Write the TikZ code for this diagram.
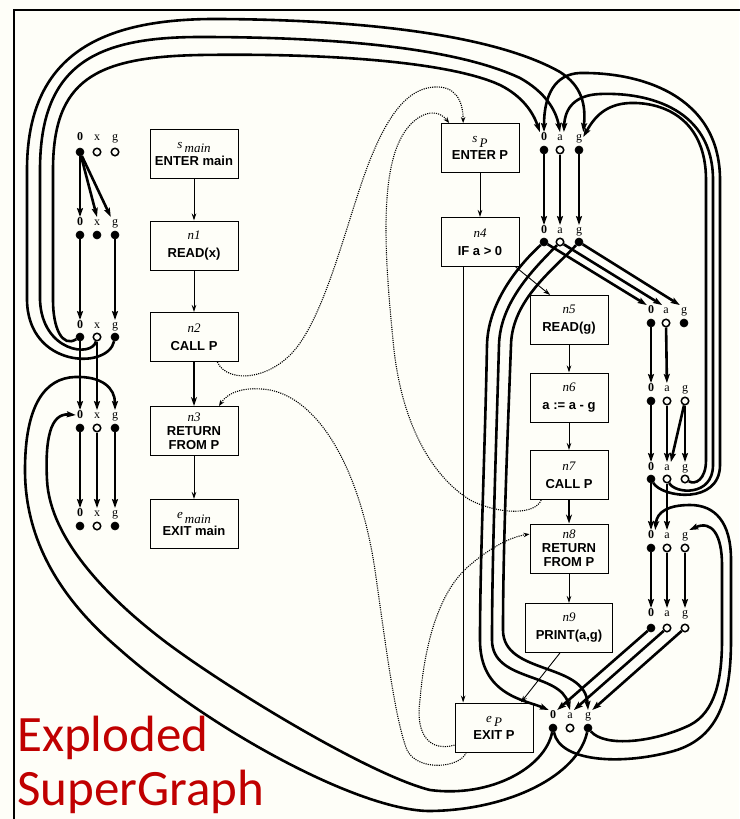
\documentclass[tikz,border=0pt]{standalone}
\usepackage{fontspec}
\setmainfont{Liberation Serif}
\setsansfont{Liberation Sans}
\newfontfamily\redfont{Carlito}
\usetikzlibrary{arrows.meta,calc}
\definecolor{bgc}{RGB}{254,254,248}
\definecolor{redc}{RGB}{192,0,0}
\newcommand\factrow[9]{%
  \node[lab] (#1Lo) at (#2,#5) {\textbf{0}};
  \node[lab] (#1Lv) at (#3,#5) {#7};
  \node[lab] (#1Lg) at (#4,#5) {g};
  \node[fd] (#1o) at (#2,#6) {};
  \node[#8] (#1v) at (#3,#6) {};
  \node[#9] (#1g) at (#4,#6) {};
}
\newcommand\subnm[1]{\raisebox{-4.5pt}[0pt][0pt]{\,\textit{#1}}}
\begin{document}
\begin{tikzpicture}[x=1pt,y=-1pt,
  lab/.style={font=\fontsize{12}{12}\selectfont, inner sep=1pt, text height=7.5pt, text depth=0pt},
  fd/.style={circle, fill=black, draw=black, line width=0.6pt, minimum size=8pt, inner sep=0pt},
  hd/.style={circle, fill=bgc, draw=black, line width=1.5pt, minimum size=7.5pt, inner sep=0pt},
  xe/.style={line width=2.6pt, -{Stealth[length=9pt,width=6pt,inset=1.5pt]}},
  box/.style={draw, line width=1pt, fill=bgc, align=center, inner sep=0pt, minimum height=49pt, font=\fontsize{13}{14}\selectfont},
  mbox/.style={box, minimum width=88pt},
  pbox/.style={box, minimum width=78pt},
  flow/.style={line width=0.9pt, -{Stealth[length=7pt,width=4.5pt]}},
  tflow/.style={line width=2.2pt, -{Stealth[length=9pt,width=6pt]}},
  dotl/.style={line width=1.1pt, dash pattern=on 1.1pt off 1.1pt, -{Stealth[length=6pt,width=4.5pt]}},
  redt/.style={font=\redfont\fontsize{51}{51}\selectfont, text=redc, inner sep=0pt, anchor=base west}
]
\useasboundingbox (0,0) rectangle (739,819);
\fill[bgc] (0,0) rectangle (739,819);
\draw[line width=1.5pt] (745,10) -- (14,10) -- (14,825);

% ---------- flow graph boxes ----------
\node[mbox] (smain) at (194,153.5) {\textit{s}\subnm{main}\\[3pt]\textsf{\textbf{ENTER main}}};
\node[mbox] (n1) at (194,245.5) {\textit{n1}\\[4pt]\textsf{\textbf{READ(x)}}};
\node[mbox] (n2) at (194,337) {\textit{n2}\\[4pt]\textsf{\textbf{CALL P}}};
\node[mbox] (n3) at (194,431) {\textit{n3}\\\textsf{\textbf{RETURN}}\\\textsf{\textbf{FROM P}}};
\node[mbox] (emain) at (194,524) {\textit{e}\subnm{main}\\[3pt]\textsf{\textbf{EXIT main}}};

\node[pbox] (sP) at (480,148) {\textit{s}\subnm{P}\\[3pt]\textsf{\textbf{ENTER P}}};
\node[pbox] (n4) at (480,242) {\textit{n4}\\[4pt]\textsf{\textbf{IF a > 0}}};
\node[pbox] (n5) at (569,320) {\textit{n5}\\[4pt]\textsf{\textbf{READ(g)}}};
\node[pbox] (n6) at (569,397.5) {\textit{n6}\\[4pt]\textsf{\textbf{a := a - g}}};
\node[pbox] (n7) at (569,475) {\textit{n7}\\[4pt]\textsf{\textbf{CALL P}}};
\node[pbox] (n8) at (569,548.5) {\textit{n8}\\\textsf{\textbf{RETURN}}\\\textsf{\textbf{FROM P}}};
\node[box, minimum width=87pt] (n9) at (569,628) {\textit{n9}\\[4pt]\textsf{\textbf{PRINT(a,g)}}};
\node[pbox] (eP) at (494,727.5) {\textit{e}\subnm{P}\\[3pt]\textsf{\textbf{EXIT P}}};

% ---------- flow edges ----------
\draw[flow] (smain) -- (n1);
\draw[flow] (n1) -- (n2);
\draw[tflow] (n2) -- (n3);
\draw[flow] (n3) -- (emain);
\draw[flow] (sP) -- (n4);
\draw[flow] (n4.-35) -- (n5.127);
\draw[flow] (n4.236) -- (n4.236 |- eP.north);
\draw[flow] (n5) -- (n6);
\draw[flow] (n6) -- (n7);
\draw[tflow] (n7) -- (n8);
\draw[flow] (n8) -- (n9);
\draw[flow] (n9.250) -- (eP.43);

% ---------- interprocedural dotted edges ----------
\draw[dotl] (n2.-47) .. controls (228,385) and (275,380) .. (300,343) .. controls (330,300) and (350,210) .. (370,160) .. controls (390,110) and (410,88) .. (435,87) .. controls (455,86) and (463,100) .. (sP.124);
\draw[dotl] (n7.222) .. controls (535,515) and (500,515) .. (470,500) .. controls (430,475) and (400,420) .. (393,340) .. controls (385,260) and (380,180) .. (400,140) .. controls (412,115) and (435,105) .. (sP.141);
\draw[dotl] (eP.222) .. controls (460,768) and (418,772) .. (407,750) .. controls (395,720) and (385,640) .. (375,570) .. controls (360,470) and (320,400) .. (270,390) .. controls (245,386) and (228,392) .. (n3.45);
\draw[dotl] (eP.204) .. controls (430,752) and (415,735) .. (420,700) .. controls (425,640) and (440,590) .. (470,565) .. controls (490,548) and (510,537) .. (n8.160);

% ---------- exploded fact nodes ----------
\factrow{mA}{80}{97}{115}{137}{152}{x}{hd}{hd}
\factrow{mB}{80}{97}{115}{222}{235}{x}{fd}{fd}
\factrow{mC}{80}{97}{115}{325}{337}{x}{hd}{fd}
\factrow{mD}{80}{97}{115}{415}{428}{x}{hd}{fd}
\factrow{mE}{80}{97}{115}{513}{526}{x}{hd}{fd}
\factrow{pS}{544}{560}{579}{137}{150}{a}{hd}{fd}
\factrow{pNd}{544}{560}{579}{230}{242}{a}{hd}{fd}
\factrow{pNe}{651}{666}{684}{310}{323}{a}{hd}{fd}
\factrow{pNf}{651}{667}{685}{388}{401}{a}{hd}{hd}
\factrow{pNg}{651}{667}{685}{467}{479}{a}{hd}{hd}
\factrow{pNh}{651}{667}{685}{535}{548}{a}{hd}{hd}
\factrow{pNi}{651}{667}{685}{613}{628}{a}{hd}{hd}
\factrow{pE}{553}{570}{588}{715}{728}{a}{hd}{fd}

% ---------- intraprocedural exploded edges: main ----------
\draw[xe] (mAo) -- (mBLo);
\draw[xe] (mAo) -- (mBLv.north);
\draw[xe] (mAo) -- (mBLg.north west);
\draw[xe] (mBo) -- (mCLo);
\draw[xe] (mBg) -- (mCLg);
\draw[xe] (mCo) -- (mDLo);
\draw[xe] (mCv) -- (mDLv);
\draw[xe] (mDo) -- (mELo);
\draw[xe] (mDv) -- (mELv);
\draw[xe] (mDg) -- (mELg);

% ---------- intraprocedural exploded edges: P ----------
\draw[xe] (pSo) -- (pNdLo);
\draw[xe] (pSv) -- (pNdLv);
\draw[xe] (pSg) -- (pNdLg);
\draw[xe] (pNdo) -- (pNeLo.north west);
\draw[xe] (pNdv) -- (pNeLv.north west);
\draw[xe] (pNdg) -- (pNeLg.north west);
\draw[xe] (pNeo) -- (pNfLo);
\draw[xe] (pNev) -- (pNfLv);
\draw[xe] (pNfo) -- (pNgLo);
\draw[xe] (pNfv) -- (pNgLv);
\draw[xe] (pNfg) -- (pNgLv.north east);
\draw[xe] (pNfg) -- (pNgLg);
\draw[xe] (pNgo) -- (pNhLo);
\draw[xe] (pNgv) -- (pNhLv);
\draw[xe] (pNho) -- (pNiLo);
\draw[xe] (pNhv) -- (pNiLv);
\draw[xe] (pNhg) -- (pNiLg);
\draw[xe] (pNio) -- (pELo.north east);
\draw[xe] (pNiv) -- (pELv.north east);
\draw[xe] (pNig) -- (pELg.north east);

% n4 -> exit P bundle
\draw[xe] (pNdo) .. controls (522,262) and (488,300) .. (487,345) .. controls (485,450) and (480,560) .. (480,640) .. controls (480,695) and (525,700) .. (pELo.north west);
\draw[xe] (pNdv) .. controls (538,265) and (500,300) .. (499,345) .. controls (496,450) and (492,560) .. (492,640) .. controls (492,682) and (560,672) .. (pELv.north);
\draw[xe] (pNdg) .. controls (553,270) and (512,300) .. (511,345) .. controls (507,450) and (503,550) .. (503,630) .. controls (503,675) and (585,662) .. (pELg.north);

% ---------- call edges main n2 -> start P ----------
\draw[xe] (mCo) .. controls (62,348) and (53,328) .. (53,300) -- (53,170) .. controls (53,80) and (95,57) .. (200,55) .. controls (330,53) and (450,62) .. (500,85) .. controls (522,96) and (533,112) .. (pSLo.north west);
\draw[xe] (mCv) .. controls (92,358) and (42,352) .. (40,300) -- (40,170) .. controls (40,65) and (95,37) .. (200,37) .. controls (350,37) and (460,50) .. (520,78) .. controls (545,92) and (556,110) .. (pSLv.north);
\draw[xe] (mCg) .. controls (108,370) and (28,368) .. (27,300) -- (27,170) .. controls (27,55) and (100,18) .. (220,19) .. controls (380,20) and (500,38) .. (560,72) .. controls (582,86) and (586,105) .. (pSLg.north east);

% ---------- call edges P n7 -> start P ----------
\draw[xe] (pNgo) .. controls (662,498) and (720,505) .. (720,465) -- (720,180) .. controls (720,95) and (640,72) .. (580,73) .. controls (555,74) and (544,95) .. (pSLo.north);
\draw[xe] (pNgv) .. controls (675,494) and (713,497) .. (713,465) -- (713,180) .. controls (713,110) and (650,92) .. (600,94) .. controls (575,95) and (565,108) .. (pSLv.north east);
\draw[xe] (pNgg) .. controls (695,485) and (706,480) .. (706,460) -- (706,180) .. controls (706,120) and (665,102) .. (630,103) .. controls (605,104) and (594,118) .. (pSLg.east);

% ---------- return edges exit P -> n8 ----------
\draw[xe] (pEo) .. controls (560,762) and (620,765) .. (670,752) .. controls (718,740) and (731,700) .. (731,640) -- (731,560) .. controls (731,522) and (715,505) .. (690,505) .. controls (668,505) and (657,512) .. (pNhLo.north east);
\draw[xe] (pEg) .. controls (605,748) and (655,742) .. (690,725) .. controls (715,712) and (722,680) .. (722,640) -- (722,565) .. controls (722,535) and (712,520) .. (pNhLg.north east);

% ---------- return edges exit P -> n3 ----------
\draw[xe] (pEo) .. controls (545,768) and (490,798) .. (430,790) .. controls (370,775) and (230,690) .. (167,643) .. controls (110,600) and (50,540) .. (47,480) .. controls (45,440) and (50,413) .. (mDLo.west);
\draw[xe] (pEg) .. controls (578,775) and (510,810) .. (430,811) .. controls (360,811) and (210,730) .. (117,647) .. controls (60,598) and (25,540) .. (25,470) .. controls (25,405) and (45,378) .. (75,377) .. controls (102,376) and (115,388) .. (mDLg.north);

% ---------- title ----------
\node[redt] (t1) at (17,751) {Exploded};
\node[redt] (t2) at (17,805) {SuperGraph};
\end{tikzpicture}
\end{document}
